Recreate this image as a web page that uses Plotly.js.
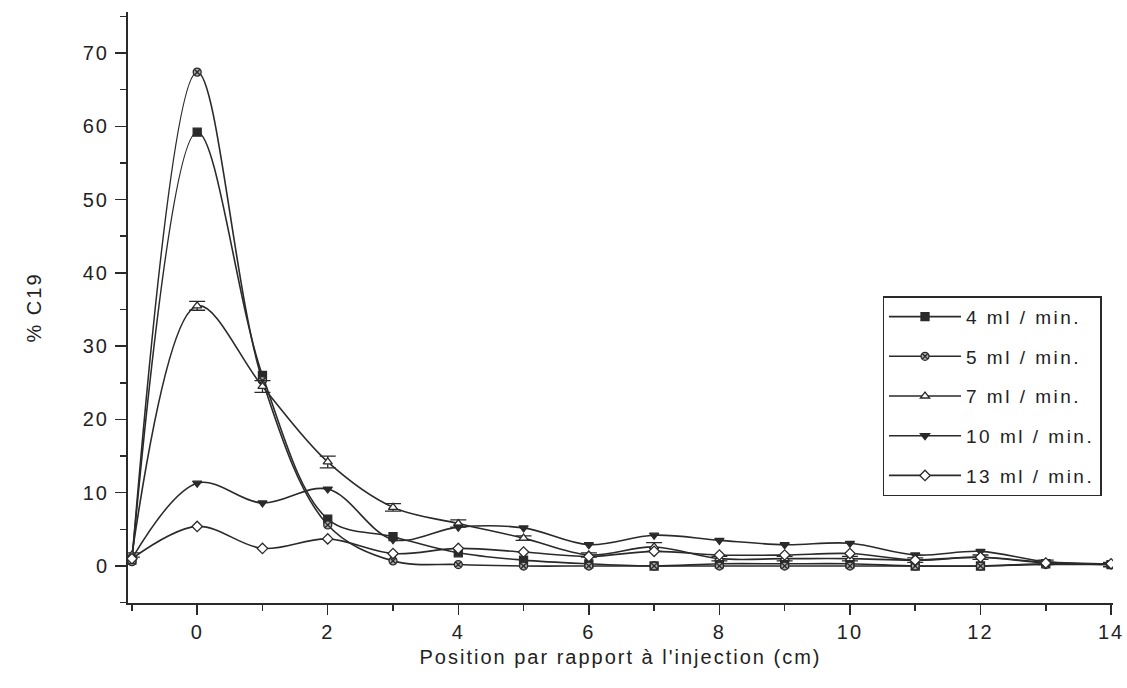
<!DOCTYPE html>
<html>
<head>
<meta charset="utf-8">
<script src="https://cdn.plot.ly/plotly-3.0.1.min.js"></script>
<style>
html,body{margin:0;padding:0;background:#fff;}
#chart{width:1127px;height:688px;}
.xtick text, .ytick text {letter-spacing: 2px;}
.g-xtitle text, .g-ytitle text, .xtitle, .ytitle {letter-spacing: 2px;}
.legendtext {letter-spacing: 2.5px;}
</style>
</head>
<body>
<div id="chart"></div>
<script>
var positions = [-1, 0, 1, 2, 3, 4, 5, 6, 7, 8, 9, 10, 11, 12, 13, 14];
var seriesNames = ["4 ml / min.", "5 ml / min.", "7 ml / min.", "10 ml / min.", "13 ml / min."];
var flow4 = [0.8, 59.2, 26.0, 6.4, 4.0, 1.8, 0.8, 0.3, 0.0, 0.3, 0.3, 0.3, 0.0, 0.0, 0.3, 0.2];
var flow5 = [0.6, 67.4, 25.3, 5.6, 0.7, 0.2, 0.0, 0.0, 0.0, 0.0, 0.0, 0.0, 0.0, 0.0, 0.2, 0.2];
var flow7 = [1.5, 35.5, 24.5, 14.2, 8.0, 5.8, 3.8, 1.5, 2.6, 1.0, 1.0, 1.0, 0.8, 1.2, 0.5, 0.2];
var flow10 = [1.0, 11.3, 8.6, 10.5, 3.6, 5.3, 5.2, 2.9, 4.2, 3.5, 2.9, 3.1, 1.5, 2.0, 0.6, 0.3];
var flow13 = [1.0, 5.4, 2.4, 3.7, 1.7, 2.4, 1.9, 1.3, 2.0, 1.5, 1.5, 1.7, 0.8, 1.2, 0.4, 0.3];
var flow7err = [0.3, 0.6, 0.8, 0.8, 0.5, 0.5, 0.3, 0.3, 0.6, 0.3, 0.3, 0.3, 0.3, 0.3, 0.3, 0.3];
var xTickVals = [0, 2, 4, 6, 8, 10, 12, 14];
var yTickVals = [0, 10, 20, 30, 40, 50, 60, 70];

var ink = '#2a2a2a';
function mk(y, name, symbol, fill, extra) {
  var t = {
    x: positions, y: y, name: name, type: 'scatter', mode: 'lines+markers',
    legendgroup: name,
    line: {color: ink, width: 1.6, shape: 'spline', smoothing: 1},
    marker: {symbol: symbol, size: 8, color: fill, line: {color: ink, width: 1.3}}
  };
  if (extra) for (var k in extra) t[k] = extra[k];
  return t;
}
var traces = [
  mk(flow4, seriesNames[0], 'square', ink),
  mk(flow5, seriesNames[1], 'circle-x', '#aaaaaa'),
  mk(flow7, seriesNames[2], 'triangle-up', '#ffffff', {error_y: {type: 'data', array: flow7err, visible: true, color: ink, thickness: 1.3, width: 8}}),
  mk(flow10, seriesNames[3], 'triangle-down', ink),
  mk(flow13, seriesNames[4], 'diamond', '#ffffff')
];

var font = 'Liberation Sans, Arial, sans-serif';
var layout = {
  width: 1127, height: 688,
  margin: {l: 128, r: 14, t: 12, b: 85},
  paper_bgcolor: '#fff', plot_bgcolor: '#fff',
  showlegend: true,
  font: {family: font, color: '#222'},
  xaxis: {
    range: [-1.06, 14.03], tickvals: xTickVals, ticktext: xTickVals.map(String),
    ticks: 'outside', ticklen: 10, tickwidth: 1.5, tickcolor: ink,
    minor: {tickvals: [-1, 1, 3, 5, 7, 9, 11, 13], ticks: 'outside', ticklen: 6, tickwidth: 1.5, tickcolor: ink},
    showline: true, linecolor: ink, linewidth: 2, showgrid: false, zeroline: false,
    tickfont: {size: 20, family: font, color: '#222'},
    title: {text: "Position par rapport à l'injection (cm)", font: {size: 20, family: font, color: '#222'}, standoff: 8}
  },
  yaxis: {
    range: [-5.05, 75.6], tickvals: yTickVals, ticktext: yTickVals.map(String),
    ticks: 'outside', ticklen: 11, tickwidth: 1.5, tickcolor: ink,
    ticklabelstandoff: 2,
    minor: {tickvals: [-5, 5, 15, 25, 35, 45, 55, 65, 75], ticks: 'outside', ticklen: 6, tickwidth: 1.5, tickcolor: ink},
    showline: true, linecolor: ink, linewidth: 2, showgrid: false, zeroline: false,
    tickfont: {size: 20, family: font, color: '#222'},
    title: {text: '% C19', font: {size: 20, family: font, color: '#222'}, standoff: 36}
  },
  legend: {
    x: 0.766, y: 0.519, xanchor: 'left', yanchor: 'top',
    bgcolor: '#fff', bordercolor: ink, borderwidth: 1.5,
    font: {size: 19, family: font, color: '#222'},
    itemwidth: 72,
    traceorder: 'grouped', tracegroupgap: 12
  }
};
Plotly.newPlot('chart', traces, layout, {displayModeBar: false, staticPlot: true});
</script>
</body>
</html>
